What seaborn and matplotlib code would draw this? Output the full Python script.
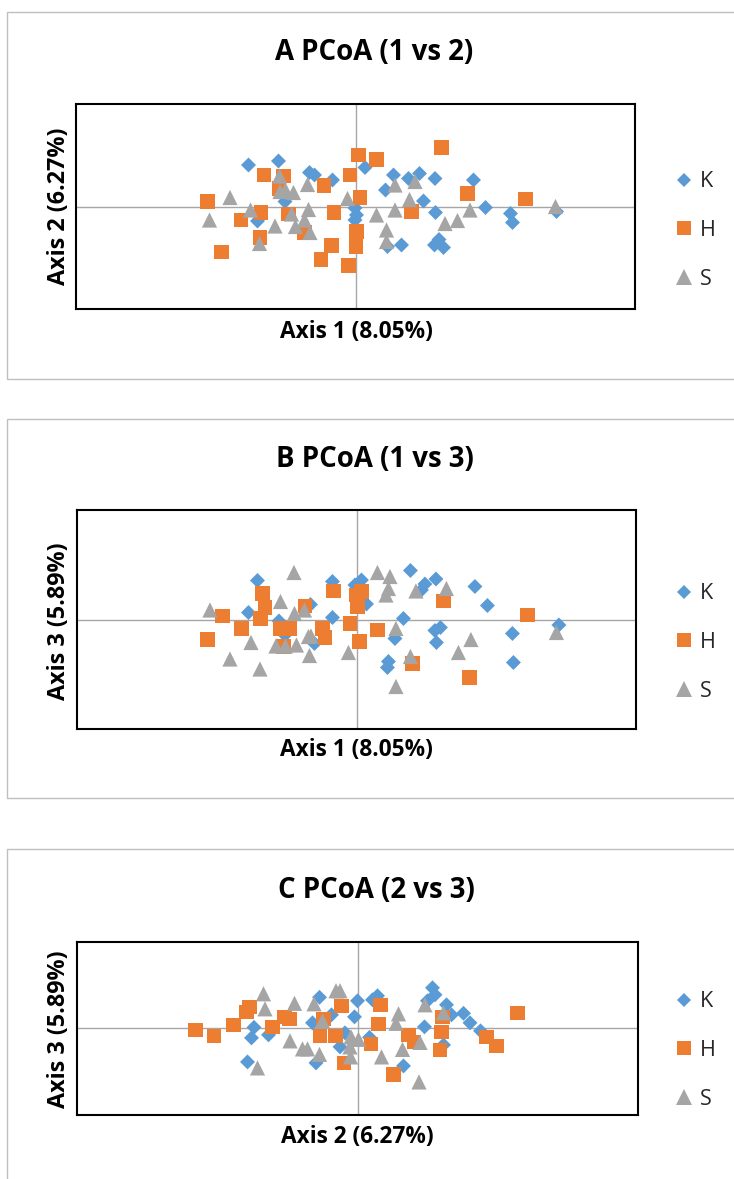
import numpy as np
import pandas as pd
import matplotlib
matplotlib.use("Agg")
import matplotlib.pyplot as plt
from matplotlib.patches import Rectangle
import seaborn as sns

# ---------------- data (PCoA scores) ----------------
groups = ["K", "H", "S"]
colors = {"K": "#5B9BD5", "H": "#ED7D31", "S": "#A5A5A5"}

# Panel A: Axis 1 (x) vs Axis 2 (y)
a_k_x = [-0.214, -0.154, -0.092, -0.082, -0.046, 0.019, -0.141, -0.196, -0.001, 0.002, -0.001,
         0.076, 0.106, 0.128, 0.159, 0.060, 0.236, 0.136, 0.160, 0.260, 0.310, 0.314, 0.402,
         0.064, 0.092, 0.158, 0.167, 0.176]
a_k_y = [0.084, 0.092, 0.069, 0.064, 0.054, 0.079, 0.011, -0.028, -0.002, -0.016, -0.026,
         0.064, 0.057, 0.067, 0.057, 0.034, 0.054, 0.012, -0.011, -0.001, -0.013, -0.031, -0.009,
         -0.079, -0.076, -0.076, -0.065, -0.081]
a_h_x = [0.006, -0.183, -0.144, -0.153, -0.063, -0.011, 0.009, -0.296, -0.189, -0.229, -0.134,
         -0.043, -0.191, -0.102, -0.268, -0.048, -0.069, -0.014, 0.002, 0.001, 0.172, 0.042,
         0.224, 0.340, 0.112]
a_h_y = [0.104, 0.064, 0.062, 0.037, 0.043, 0.064, 0.019, 0.011, -0.011, -0.026, -0.014,
         -0.011, -0.061, -0.051, -0.090, -0.077, -0.105, -0.117, -0.049, -0.079, 0.119, 0.095,
         0.027, 0.016, -0.009]
a_s_x = [-0.251, -0.292, -0.210, -0.152, -0.096, -0.151, -0.140, -0.124, -0.161, -0.128, -0.094,
         -0.120, -0.102, -0.091, -0.192, -0.016, 0.079, 0.119, 0.108, 0.079, 0.042, 0.062, 0.062,
         0.179, 0.204, 0.229, 0.400]
a_s_y = [0.019, -0.026, -0.006, 0.062, 0.045, 0.031, 0.034, 0.029, -0.038, -0.014, -0.005,
         -0.039, -0.026, -0.051, -0.073, 0.017, 0.044, 0.051, 0.015, -0.006, -0.016, -0.046, -0.069,
         -0.033, -0.027, -0.006, 0.001]

# Panel B: Axis 1 (x) vs Axis 3 (y)
b_k_x = [-0.199, -0.049, -0.004, 0.009, -0.217, -0.093, -0.049, -0.156, -0.144, -0.085, 0.019,
         0.107, 0.136, 0.129, 0.158, 0.236, 0.261, 0.093, 0.076, 0.156, 0.167, 0.159, 0.063, 0.061,
         0.311, 0.313, 0.404]
b_k_y = [0.079, 0.077, 0.070, 0.080, 0.015, 0.031, 0.005, -0.002, -0.030, -0.047, 0.032,
         0.099, 0.072, 0.060, 0.082, 0.067, 0.029, 0.003, -0.037, -0.021, -0.015, -0.045, -0.083,
         -0.095, -0.027, -0.085, -0.010]
b_h_x = [-0.189, -0.184, -0.193, -0.269, -0.231, -0.299, -0.104, -0.047, -0.153, -0.134, -0.147,
         -0.069, -0.064, -0.014, -0.001, 0.001, 0.005, 0.009, 0.041, 0.173, 0.111, 0.225, 0.341]
b_h_y = [0.053, 0.025, 0.003, 0.008, -0.017, -0.039, 0.028, 0.058, -0.017, -0.017, -0.053,
         -0.017, -0.035, -0.007, 0.050, 0.027, -0.043, 0.057, -0.020, 0.038, -0.087, -0.115, 0.010]
b_s_x = [-0.126, -0.294, -0.153, -0.125, -0.105, -0.212, -0.254, -0.194, -0.162, -0.143, -0.121,
         -0.097, -0.092, -0.095, -0.017, 0.041, 0.066, 0.063, 0.058, 0.118, 0.179, 0.078, 0.107,
         0.078, 0.203, 0.228, 0.399]
b_s_y = [0.095, 0.020, 0.037, 0.013, 0.020, -0.045, -0.078, -0.098, -0.052, -0.052, -0.050,
         -0.033, -0.032, -0.071, -0.065, 0.095, 0.087, 0.063, 0.050, 0.058, 0.063, -0.017, -0.073,
         -0.133, -0.065, -0.039, -0.025]

# Panel C: Axis 2 (x) vs Axis 3 (y)
c_k_x = [-0.077, -0.001, -0.007, -0.053, -0.091, -0.208, -0.213, -0.179, -0.221, -0.084, -0.036,
         -0.026, 0.039, 0.029, 0.149, 0.154, 0.139, 0.177, 0.187, 0.211, 0.224, 0.245, 0.133,
         0.023, 0.091, 0.171]
c_k_y = [0.062, 0.055, 0.023, 0.027, 0.011, 0.002, -0.019, -0.013, -0.067, -0.069, -0.037,
         -0.009, 0.065, 0.057, 0.081, 0.067, 0.055, 0.047, 0.027, 0.030, 0.011, -0.005, 0.003,
         -0.018, -0.075, -0.033]
c_h_x = [-0.325, -0.288, -0.249, -0.223, -0.217, -0.171, -0.147, -0.137, -0.069, -0.076, -0.045,
         -0.033, -0.028, 0.045, 0.041, 0.026, 0.101, 0.112, 0.169, 0.167, 0.164, 0.257, 0.277,
         0.319, 0.071]
c_h_y = [-0.003, -0.015, 0.007, 0.033, 0.043, 0.002, 0.023, 0.019, 0.019, -0.015, -0.015,
         0.045, -0.069, 0.047, 0.008, -0.031, -0.013, -0.027, 0.022, -0.007, -0.043, -0.017, -0.035,
         0.031, -0.092]
c_s_x = [-0.189, -0.186, -0.127, -0.088, -0.044, -0.036, -0.071, -0.136, -0.111, -0.101, -0.077,
         -0.201, -0.014, 0.001, -0.016, -0.015, 0.081, 0.076, 0.134, 0.171, 0.124, 0.089, 0.047,
         0.122]
c_s_y = [0.069, 0.039, 0.050, 0.049, 0.075, 0.075, 0.015, -0.025, -0.041, -0.041, -0.052,
         -0.079, -0.017, -0.022, -0.037, -0.057, 0.029, 0.010, 0.047, 0.031, -0.028, -0.042, -0.057,
         -0.107]

titles = ["A PCoA (1 vs 2)", "B PCoA (1 vs 3)", "C PCoA (2 vs 3)"]
x_labels = ["Axis 1 (8.05%)", "Axis 1 (8.05%)", "Axis 2 (6.27%)"]
y_labels = ["Axis 2 (6.27%)", "Axis 3 (5.89%)", "Axis 3 (5.89%)"]

panel_data = [
    {"K": (a_k_x, a_k_y), "H": (a_h_x, a_h_y), "S": (a_s_x, a_s_y)},
    {"K": (b_k_x, b_k_y), "H": (b_h_x, b_h_y), "S": (b_s_x, b_s_y)},
    {"K": (c_k_x, c_k_y), "H": (c_h_x, c_h_y), "S": (c_s_x, c_s_y)},
]

# ---------------- layout (pixels of a 734x1179 canvas) ----------------
W, H = 734, 1179
layout = [
    dict(box=(7, 12, 379), frame=(76, 104, 634.5, 309), xlim=(-0.559, 0.558), ylim=(-0.204, 0.206),
         title=(374.5, 53), xlab=(356.5, 332), ylab=(58.5, 206.5), leg=(673, 230.5)),
    dict(box=(7, 419, 798), frame=(77, 510, 636.4, 729), xlim=(-0.560, 0.559), ylim=(-0.218, 0.220),
         title=(375, 460), xlab=(356.5, 750), ylab=(58.5, 621), leg=(673, 642.5)),
    dict(box=(7, 849, 1200), frame=(77, 941.7, 638, 1115), xlim=(-0.562, 0.560), ylim=(-0.173, 0.173),
         title=(376.5, 891), xlab=(357.5, 1137), ylab=(58.5, 1029), leg=(673, 1050.5)),
]

sns.set_style("white")
plt.rcParams["font.family"] = ["Open Sans", "DejaVu Sans"]

fig = plt.figure(figsize=(W / 100, H / 100), dpi=100)
fig.patch.set_facecolor("white")


def fx(px):
    return px / W


def fy(py):
    return 1 - py / H


markers = {"K": "D", "H": "s", "S": "^"}
sizes = {"K": 58, "H": 106, "S": 120}

for i, (pdat, lay) in enumerate(zip(panel_data, layout)):
    bx0, by0, by1 = lay["box"]
    fig.add_artist(Rectangle((fx(bx0), fy(by1)), fx(W + 20) - fx(bx0), (by1 - by0) / H,
                             transform=fig.transFigure, facecolor="none",
                             edgecolor="#BFBFBF", linewidth=1.0, zorder=0))

    l, t, r, b = lay["frame"]
    ax = fig.add_axes([fx(l), fy(b), (r - l) / W, (b - t) / H])

    rows = []
    for g in groups:
        xs, ys = pdat[g]
        for xv, yv in zip(xs, ys):
            rows.append((g, xv, yv))
    df = pd.DataFrame(rows, columns=["group", "x", "y"])

    ax.axhline(0, color="#A6A6A6", lw=1.0, zorder=1)
    ax.axvline(0, color="#A6A6A6", lw=1.0, zorder=1)

    sns.scatterplot(data=df, x="x", y="y", hue="group", style="group", size="group",
                    hue_order=groups, style_order=groups, size_order=groups,
                    palette=colors, markers=markers, sizes=sizes,
                    linewidth=0, alpha=1.0, ax=ax, zorder=3)

    ax.set_xlim(*lay["xlim"])
    ax.set_ylim(*lay["ylim"])
    ax.set_xticks([])
    ax.set_yticks([])
    ax.set_xlabel("")
    ax.set_ylabel("")
    for sp in ax.spines.values():
        sp.set_visible(True)
        sp.set_color("black")
        sp.set_linewidth(1.5)

    lx, ly = lay["leg"]
    sns.move_legend(ax, "center left", bbox_to_anchor=(fx(lx), fy(ly)),
                    bbox_transform=fig.transFigure, frameon=False, title=None,
                    fontsize=15.5, borderpad=0, borderaxespad=0,
                    handlelength=1.0, handletextpad=0.25, labelspacing=1.28)

    tx, ty = lay["title"]
    fig.text(fx(tx), fy(ty), titles[i], ha="center", va="center",
             fontsize=19.9, fontweight="bold", color="black")
    xx, xy = lay["xlab"]
    fig.text(fx(xx), fy(xy), x_labels[i], ha="center", va="center",
             fontsize=16.3, fontweight="bold", color="black")
    yx, yy = lay["ylab"]
    fig.text(fx(yx), fy(yy), y_labels[i], ha="center", va="center", rotation=90,
             fontsize=16.8, fontweight="bold", color="black")

fig.savefig("out.png", dpi=100, facecolor="white")
